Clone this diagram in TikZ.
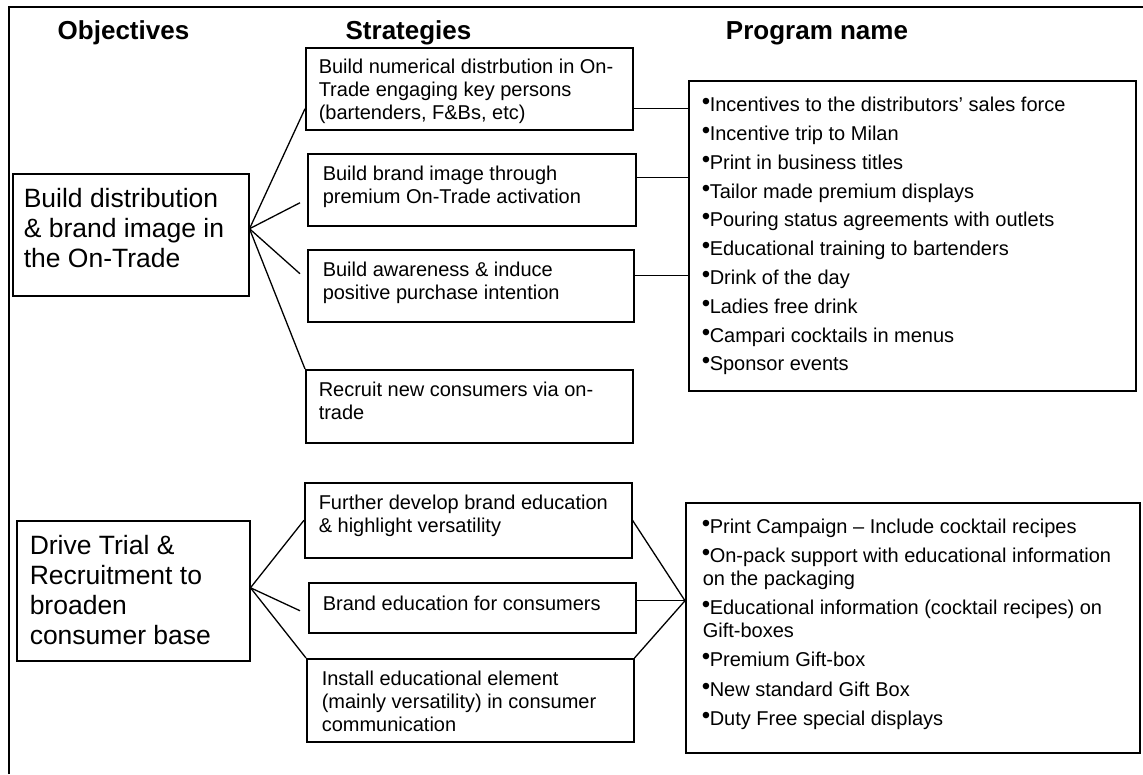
\documentclass[tikz,border=0pt]{standalone}
\usepackage{fontspec}
\setmainfont{Liberation Sans}
\tikzset{
	box/.style={draw, line width=1.5pt, anchor=north west},
	objbox/.style={box, inner xsep=11pt, inner ysep=15pt, font=\fontsize{26.5}{30}\selectfont},
	stratbox/.style={box, inner xsep=14pt, inner ysep=12pt, font=\fontsize{20}{23}\selectfont},
	progbox/.style={box, inner xsep=14pt, inner ysep=16pt, font=\fontsize{20}{22.5}\selectfont},
	head/.style={anchor=base, font=\fontsize{26}{30}\selectfont\bfseries},
	link/.style={line width=1.3pt}
}
\newcommand{\boxtxt}[3]{\parbox[t][#2][t]{#1}{\raggedright #3}}
\newcommand{\pb}{\raisebox{2pt}{\fontsize{24}{24}\selectfont\makebox[7pt][l]{\kern-1pt\textbullet}}}

\begin{document}
\begin{tikzpicture}[x=1pt, y=-1pt]
\useasboundingbox (0,0) rectangle (1143,774);
\draw[line width=2pt] (9,774) -- (9,7) -- (1143,7);

\node[head] (hobj) at (123.5,39.5) {Objectives};
\node[head] (hstr) at (408.5,39.5) {Strategies};
\node[head] (hprog) at (817,39.5) {Program name};

% objectives
\node[objbox] (o1) at (12,173) {\boxtxt{214pt}{92pt}{Build distribution\\\& brand image in\\the On-Trade}};
\node[objbox, inner xsep=13pt] (o2) at (16,520) {\boxtxt{207pt}{110pt}{Drive Trial \&\\Recruitment to\\broaden\\consumer base}};

% strategies
\node[stratbox, inner xsep=13pt, inner ysep=11pt] (s1) at (305,47) {\boxtxt{301pt}{60pt}{Build numerical distrbution in On-\\Trade engaging key persons\\(bartenders, F\&Bs, etc)}};
\node[stratbox, inner xsep=15pt] (s2) at (307,153) {\boxtxt{298pt}{48pt}{Build brand image through\\premium On-Trade activation}};
\node[stratbox, inner xsep=15pt] (s3) at (307,249) {\boxtxt{296pt}{48pt}{Build awareness \& induce\\positive purchase intention}};
\node[stratbox, inner xsep=13pt] (s4) at (305,369) {\boxtxt{301pt}{49pt}{Recruit new consumers via on-\\trade}};
\node[stratbox] (s5) at (304,482) {\boxtxt{299pt}{51pt}{Further develop brand education\\\& highlight versatility}};
\node[stratbox, inner ysep=13pt] (s6) at (308,582) {\boxtxt{299pt}{24pt}{Brand education for consumers}};
\node[stratbox, inner xsep=15pt] (s7) at (306,658) {\boxtxt{297pt}{59pt}{Install educational element\\(mainly versatility) in consumer\\communication}};

% programs
\node[progbox, inner ysep=16.5pt] (p1) at (688,80) {\boxtxt{419pt}{277pt}{%
\pb Incentives to the distributors' sales force\\[6.3pt]
\pb Incentive trip to Milan\\[6.3pt]
\pb Print in business titles\\[6.3pt]
\pb Tailor made premium displays\\[6.3pt]
\pb Pouring status agreements with outlets\\[6.3pt]
\pb Educational training to bartenders\\[6.3pt]
\pb Drink of the day\\[6.3pt]
\pb Ladies free drink\\[6.3pt]
\pb Campari cocktails in menus\\[6.3pt]
\pb Sponsor events}};
\node[progbox, inner xsep=17pt] (p2) at (685,502) {\boxtxt{420pt}{218pt}{%
\pb Print Campaign -- Include cocktail recipes\\[7pt]
\pb On-pack support with educational information\\
on the packaging\\[7pt]
\pb Educational information (cocktail recipes) on\\
Gift-boxes\\[7pt]
\pb Premium Gift-box\\[7pt]
\pb New standard Gift Box\\[7pt]
\pb Duty Free special displays}};

% first group
\coordinate (o1r) at ([yshift=6pt]o1.east);
\draw[link] (o1r) -- ([yshift=-20pt]s1.west);
\draw[link] (o1r) -- ([xshift=-7pt,yshift=-13pt]s2.west);
\draw[link] (o1r) -- ([xshift=-7pt,yshift=12pt]s3.west);
\draw[link] (o1r) -- (s4.north west);
\coordinate (s1r) at ([yshift=-20pt]s1.east);
\coordinate (s2r) at ([yshift=12pt]s2.east);
\coordinate (s3r) at ([yshift=10pt]s3.east);
\draw[link] (s1r) -- (s1r -| p1.west);
\draw[link] (s2r) -- (s2r -| p1.west);
\draw[link] (s3r) -- (s3r -| p1.west);

% second group
\coordinate (o2r) at ([yshift=3pt]o2.east);
\draw[link] (o2r) -- (s5.west);
\draw[link] (o2r) -- ([xshift=-8pt,yshift=-3pt]s6.west);
\draw[link] (o2r) -- (s7.north west);
\coordinate (p2l) at ([yshift=27pt]p2.west);
\draw[link] (s5.east) -- (p2l);
\draw[link] ([yshift=7pt]s6.east) -- (p2l);
\draw[link] (s7.north east) -- (p2l);
\end{tikzpicture}
\end{document}
